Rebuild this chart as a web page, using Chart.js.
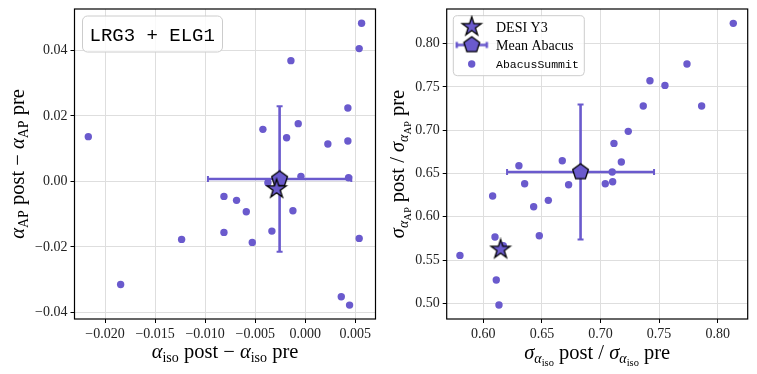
<!DOCTYPE html>
<html>
<head>
<meta charset="utf-8">
<script src="https://cdn.jsdelivr.net/npm/chart.js@4.4.1/dist/chart.umd.min.js"></script>
<style>
html, body { margin: 0; padding: 0; background: #fff; }
.panel { position: absolute; top: 0; height: 374px; }
</style>
</head>
<body>
<div class="panel" style="left:0;width:378px"><canvas id="leftChart" width="378" height="374"></canvas></div>
<div class="panel" style="left:378px;width:379px"><canvas id="rightChart" width="379" height="374"></canvas></div>
<script>
/* Left panel: shifts post - pre */
const isoShift = [-0.02167, -0.01844, -0.01235, -0.00812, -0.00812, -0.00686, -0.00589, -0.00529, -0.00423, -0.00333,
                  -0.00373, -0.00186, -0.00143, -0.00123, -0.00070, -0.00043, 0.00226, 0.00360, 0.00426, 0.00426,
                  0.00433, 0.00443, 0.00539, 0.00563, 0.00539];
const apShift = [0.01364, -0.03145, -0.01771, -0.00458, -0.01557, -0.00580, -0.00926, -0.01863, 0.01588, -0.01517,
                 -0.00040, 0.01333, 0.03684, -0.00896, 0.01761, 0.00153, 0.01140, -0.03522, 0.02239, 0.01232,
                 0.00112, -0.03776, 0.04051, 0.04824, -0.01740];
const desiShift = [-0.00286, -0.00234];
const meanShift = [-0.00256, 0.0007];
const stdShift = [0.00716, 0.0222];

/* Right panel: error ratios post / pre */
const isoRatio = [0.5801, 0.6080, 0.6100, 0.6111, 0.6134, 0.6171, 0.6304, 0.6353, 0.6430, 0.6478,
                  0.6555, 0.6674, 0.6728, 0.7041, 0.7100, 0.7104, 0.7115, 0.7178, 0.7237, 0.7365,
                  0.7422, 0.7550, 0.7738, 0.7863, 0.8133];
const apRatio = [0.5554, 0.6240, 0.5766, 0.5269, 0.4980, 0.5666, 0.6590, 0.6382, 0.6116, 0.5781,
                 0.6190, 0.6648, 0.6371, 0.6382, 0.6517, 0.6405, 0.6848, 0.6633, 0.6987, 0.7280,
                 0.7572, 0.7518, 0.7765, 0.7280, 0.8235];
const desiRatio = [0.6148, 0.5623];
const meanRatio = [0.683, 0.6517];
const stdRatio = [0.0627, 0.078];

/* ticks */
const xTicksLeft = [-0.020, -0.015, -0.010, -0.005, 0.000, 0.005];
const yTicksLeft = [-0.04, -0.02, 0.00, 0.02, 0.04];
const xTicksRight = [0.60, 0.65, 0.70, 0.75, 0.80];
const yTicksRight = [0.50, 0.55, 0.60, 0.65, 0.70, 0.75, 0.80];

const PURPLE = '#6a5acd';
const SERIF = '"Liberation Serif", serif';
const MONO = '"Liberation Mono", monospace';

function fmt(v, d) {
    return (v < -1e-12 ? '\u2212' : '') + Math.abs(v).toFixed(d);
}

/* polygon / star marker images */
function markerCanvas(kind, r, withBar) {
    const w = withBar ? 34 : Math.ceil(2 * r + 4);
    const h = Math.ceil(2 * r + 4);
    const c = document.createElement('canvas');
    c.width = w; c.height = h;
    const g = c.getContext('2d');
    const cx = w / 2, cy = h / 2;
    if (withBar) {
        g.strokeStyle = PURPLE; g.lineWidth = 2.5;
        g.beginPath();
        g.moveTo(2, cy); g.lineTo(w - 2, cy);
        g.moveTo(2, cy - 3); g.lineTo(2, cy + 3);
        g.moveTo(w - 2, cy - 3); g.lineTo(w - 2, cy + 3);
        g.stroke();
    }
    const n = kind === 'star' ? 10 : 5;
    g.beginPath();
    for (let i = 0; i < n; i++) {
        const rr = (kind === 'star' && i % 2) ? r * 0.382 : r;
        const a = -Math.PI / 2 + i * 2 * Math.PI / n;
        const px = cx + rr * Math.cos(a), py = cy + rr * Math.sin(a);
        if (i === 0) g.moveTo(px, py); else g.lineTo(px, py);
    }
    g.closePath();
    g.fillStyle = PURPLE; g.fill();
    g.lineWidth = 1.3; g.strokeStyle = '#000'; g.lineJoin = 'miter'; g.stroke();
    return c;
}
const starImg = markerCanvas('star', 10);
const pentImg = markerCanvas('pent', 8.3);
const pentLegendImg = markerCanvas('pent', 8.3, true);

/* axis title with sub / subsub scripts: [text, level, italic] */
function drawMath(ctx, segs, x, y, rotate) {
    const sizes = [20.5, 14, 10.5], drop = [0, 4, 7];
    const font = s => (s[2] ? 'italic ' : '') + sizes[s[1]] + 'px ' + SERIF;
    let total = 0;
    const widths = segs.map(s => { ctx.font = font(s); const w = ctx.measureText(s[0]).width; total += w; return w; });
    ctx.save();
    ctx.translate(x, y);
    if (rotate) ctx.rotate(-Math.PI / 2);
    ctx.fillStyle = '#000';
    ctx.textBaseline = 'alphabetic';
    let cx = -total / 2;
    segs.forEach((s, i) => { ctx.font = font(s); ctx.fillText(s[0], cx, drop[s[1]]); cx += widths[i]; });
    ctx.restore();
}

function roundBox(ctx, x, y, w, h, r) {
    ctx.beginPath();
    ctx.roundRect(x, y, w, h, r);
    ctx.fillStyle = 'rgba(255,255,255,0.8)';
    ctx.fill();
    ctx.strokeStyle = '#cccccc';
    ctx.lineWidth = 1;
    ctx.stroke();
}

function decoPlugin(xTitle, yTitle, xBase, yBase, extra) {
    return {
        id: 'deco',
        afterDraw(chart) {
            const ctx = chart.ctx, a = chart.chartArea;
            ctx.save();
            ctx.strokeStyle = '#000'; ctx.lineWidth = 1.2;
            ctx.strokeRect(a.left, a.top, a.right - a.left, a.bottom - a.top);
            drawMath(ctx, xTitle, (a.left + a.right) / 2, xBase, false);
            drawMath(ctx, yTitle, yBase, (a.top + a.bottom) / 2, true);
            extra(ctx, a);
            ctx.restore();
        }
    };
}

function axis(pos, min, max, ticks, dec, size) {
    return {
        type: 'linear', position: pos, min: min, max: max,
        afterBuildTicks: s => { s.ticks = ticks.map(v => ({ value: v })); },
        afterFit: s => {
            if (pos === 'left') s.width = size; else s.height = size;
            s.paddingLeft = s.paddingRight = s.paddingTop = s.paddingBottom = 0;
        },
        grid: { color: '#dedede', lineWidth: 1, tickColor: '#000', tickLength: 4 },
        border: { display: false },
        ticks: { font: { family: SERIF, size: 14 }, color: '#222', padding: 3, maxRotation: 0,
                 callback: v => fmt(v, dec) },
    };
}

function datasets(xs, ys, desi, mean, std) {
    const bar = { showLine: true, borderColor: PURPLE, borderWidth: 2.6,
                  pointStyle: 'line', pointRadius: 3, pointBorderWidth: 2, pointBorderColor: PURPLE };
    return [
        { data: [{ x: desi[0], y: desi[1] }], pointStyle: starImg, pointRadius: 10 },
        { data: [{ x: mean[0], y: mean[1] }], pointStyle: pentImg, pointRadius: 8 },
        Object.assign({ data: [{ x: mean[0], y: mean[1] - std[1] }, { x: mean[0], y: mean[1] + std[1] }], rotation: 0 }, bar),
        Object.assign({ data: [{ x: mean[0] - std[0], y: mean[1] }, { x: mean[0] + std[0], y: mean[1] }], rotation: 90 }, bar),
        { data: xs.map((x, i) => ({ x: x, y: ys[i] })), pointRadius: 3.7,
          backgroundColor: PURPLE, borderWidth: 0, pointBorderWidth: 0 },
    ];
}

const common = {
    responsive: false, animation: false, events: [],
    plugins: { legend: { display: false }, tooltip: { enabled: false } },
};

/* Left chart */
new Chart(document.getElementById('leftChart'), {
    type: 'scatter',
    data: { datasets: datasets(isoShift, apShift, desiShift, meanShift, stdShift) },
    options: Object.assign({}, common, {
        layout: { autoPadding: false, padding: { left: 0, right: 2.5, top: 9, bottom: 0 } },
        scales: {
            x: axis('bottom', -0.02305, 0.00702, xTicksLeft, 3, 55),
            y: axis('left', -0.042, 0.0526, yTicksLeft, 2, 74.5),
        },
    }),
    plugins: [decoPlugin(
        [['\u03b1', 0, 1], ['iso', 1], [' post \u2212 ', 0], ['\u03b1', 0, 1], ['iso', 1], [' pre', 0]],
        [['\u03b1', 0, 1], ['AP', 1], [' post \u2212 ', 0], ['\u03b1', 0, 1], ['AP', 1], [' pre', 0]],
        358, 24,
        (ctx, a) => {
            roundBox(ctx, a.left + 8, a.top + 7, 140, 36, 5);
            ctx.fillStyle = '#000';
            ctx.font = '19px ' + MONO;
            ctx.textBaseline = 'alphabetic';
            ctx.fillText('LRG3 + ELG1', a.left + 15, a.top + 32);
        })],
});

/* Right chart */
new Chart(document.getElementById('rightChart'), {
    type: 'scatter',
    data: { datasets: datasets(isoRatio, apRatio, desiRatio, meanRatio, stdRatio) },
    options: Object.assign({}, common, {
        layout: { autoPadding: false, padding: { left: 0, right: 9.3, top: 9, bottom: 0 } },
        scales: {
            x: axis('bottom', 0.5688, 0.8256, xTicksRight, 2, 55),
            y: axis('left', 0.4819, 0.8401, yTicksRight, 2, 68.7),
        },
    }),
    plugins: [decoPlugin(
        [['\u03c3', 0, 1], ['\u03b1', 1, 1], ['iso', 2], [' post / ', 0], ['\u03c3', 0, 1], ['\u03b1', 1, 1], ['iso', 2], [' pre', 0]],
        [['\u03c3', 0, 1], ['\u03b1', 1, 1], ['AP', 2], [' post / ', 0], ['\u03c3', 0, 1], ['\u03b1', 1, 1], ['AP', 2], [' pre', 0]],
        359, 26,
        (ctx, a) => {
            const bx = a.left + 6.6, by = a.top + 6.7;
            roundBox(ctx, bx, by, 131, 60, 4);
            const mx = bx + 18.4, tx = bx + 42.7;
            const rows = [by + 11, by + 29.3, by + 48.3];
            ctx.drawImage(starImg, mx - starImg.width / 2, rows[0] - starImg.height / 2);
            ctx.drawImage(pentLegendImg, mx - pentLegendImg.width / 2, rows[1] - pentLegendImg.height / 2);
            ctx.beginPath();
            ctx.arc(mx, rows[2], 3.7, 0, Math.PI * 2);
            ctx.fillStyle = PURPLE; ctx.fill();
            ctx.fillStyle = '#000';
            ctx.textBaseline = 'alphabetic';
            ctx.font = '14px ' + SERIF;
            ctx.fillText('DESI Y3', tx, rows[0] + 5);
            ctx.fillText('Mean Abacus', tx, rows[1] + 5);
            ctx.font = '11.5px ' + MONO;
            ctx.fillText('AbacusSummit', tx, rows[2] + 4);
        })],
});
</script>
</body>
</html>
